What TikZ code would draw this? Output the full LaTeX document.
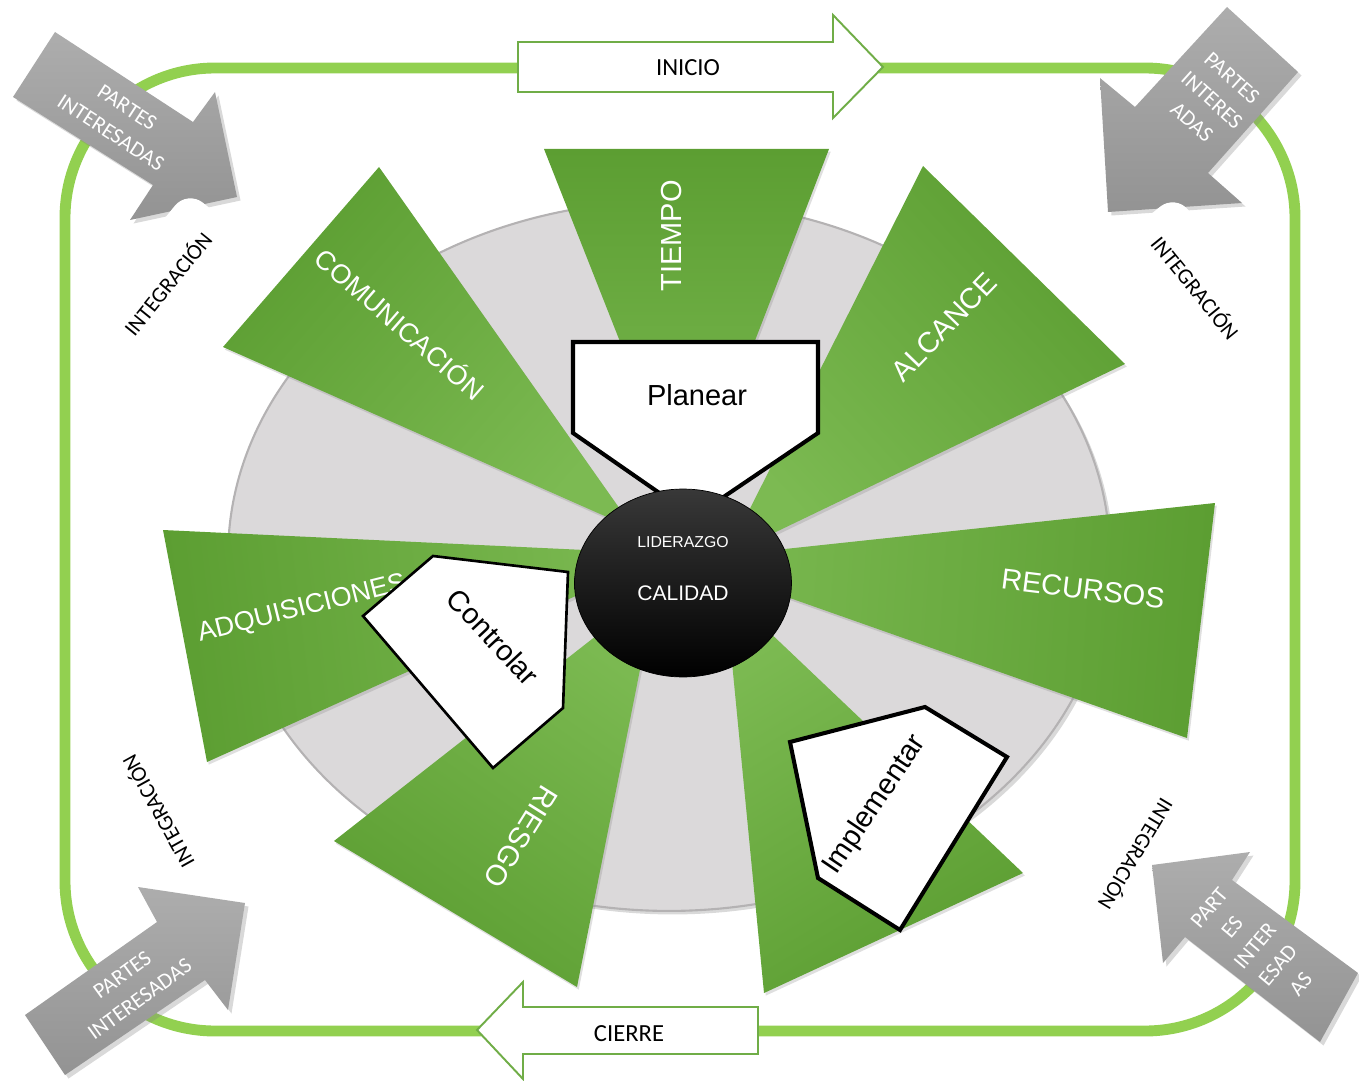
\documentclass[tikz,border=0pt]{standalone}
\usepackage{fontspec}
\setmainfont{Liberation Sans}
\newfontfamily\calibri{Carlito}
\usetikzlibrary{shapes.geometric,shadows}
\definecolor{frameGreen}{HTML}{92D050}
\definecolor{lineGreen}{HTML}{70AD47}
\definecolor{darkGreen}{HTML}{5C9E32}
\definecolor{lightGreen}{HTML}{7CBA52}
\definecolor{discGray}{HTML}{DBD9DA}
\definecolor{rimGray}{HTML}{B4B2B3}
\definecolor{grayA}{HTML}{ADADAD}
\definecolor{grayB}{HTML}{939393}
\begin{document}
\begin{tikzpicture}[x=0.02cm, y=-0.02cm,
    sector/.style={top color=darkGreen, bottom color=lightGreen,
        drop shadow={opacity=0.25, shadow xshift=1pt, shadow yshift=-1.5pt}},
    sectxt/.style={text=white, font=\fontsize{16.5}{19}\selectfont},
    stagearrow/.style={fill=white, draw=lineGreen, line width=1.1pt},
    stagetxt/.style={font=\calibri\fontsize{14}{16}\selectfont},
    partes/.style={top color=grayA, bottom color=grayB,
        drop shadow={opacity=0.3, shadow xshift=2pt, shadow yshift=-2pt}},
    partestxt/.style={text=white, align=center, font=\calibri\fontsize{12.5}{17}\selectfont},
    integ/.style={font=\calibri\fontsize{12.5}{15}\selectfont, rounded corners=0.4cm,
        minimum width=3.4cm, minimum height=1.7cm},
    disc/.style={fill=discGray, draw=rimGray, line width=1.2pt,
        drop shadow={opacity=0.3, shadow xshift=2pt, shadow yshift=-2pt}},
    phase/.style={fill=white, draw=black, line width=2.3pt, line join=miter},
    phasetxt/.style={font=\fontsize{16.5}{19}\selectfont},
    hub/.style={ellipse, draw=black, minimum width=4.34cm, minimum height=3.76cm,
        inner sep=0pt, top color=black!78, middle color=black, bottom color=black}
]
\useasboundingbox (0,0) rectangle (1359,1081);

% frame
\draw[frameGreen, line width=6.2pt, rounded corners=3cm] (65,68) rectangle (1295,1031);

% inicio / cierre
\draw[stagearrow] (518,42) -- (833,42) -- (833,15) -- (883,67) -- (833,118) -- (833,92) -- (518,92) -- cycle;
\node[stagetxt] (inicio) at (688,68) {INICIO};
\draw[stagearrow] (758,1007) -- (523,1007) -- (523,982) -- (477,1030) -- (523,1079) -- (523,1054) -- (758,1054) -- cycle;
\node[stagetxt] (cierre) at (629,1034) {CIERRE};

% partes interesadas
\path[partes] (55,32) -- (193,122) -- (215,92) -- (237,197) -- (130,220) -- (153,185) -- (13,97) -- cycle;
\path[partes] (1227,7) -- (1298,72) -- (1208,173) -- (1242,203) -- (1108,212) -- (1100,78) -- (1135,107) -- cycle;
\path[partes] (25,1015) -- (157,922) -- (138,887) -- (245,903) -- (228,1010) -- (205,980) -- (65,1075) -- cycle;
\path[partes] (1358,973) -- (1232,880) -- (1250,852) -- (1152,865) -- (1163,963) -- (1185,937) -- (1320,1042) -- cycle;
\node[partestxt, rotate=-33] (partesA) at (119,120) {PARTES\\INTERESADAS};
\node[partestxt, rotate=-42] (partesB) at (1212,100) {PARTES\\INTERES\\ADAS};
\node[partestxt, rotate=36] (partesC) at (131,987) {PARTES\\INTERESADAS};
\node[partestxt, rotate=50] (partesD) at (1255,946) {PART\\ES\\INTER\\ESAD\\AS};

% integracion
\node[integ, fill=white, rotate=51] (integA) at (167,283) {INTEGRACIÓN};
\node[integ, fill=white, rotate=-51] (integB) at (1196,287) {INTEGRACIÓN};
\node[integ, rotate=119] (integC) at (157,812) {INTEGRACIÓN};
\node[integ, rotate=-121] (integD) at (1137,855) {INTEGRACIÓN};

% disc and sectors
\path[disc] (669,556) ellipse [x radius=8.82cm, y radius=7.1cm];
\foreach \ax/\ay/\bx/\by/\cx/\cy/\ang in {
    544/149/829/149/688/514/0,
    923/166/1125/364/726/556/-47,
    1215/503/1187/738/682/560/-94,
    1023/873/764/993/725/590/-149,
    577/987/334/841/656/589/145,
    207/762/163/530/669/554/97,
    223/347/379/167/634/529/49}{
    \path[sector, shading angle=\ang] (\ax,\ay) -- (\bx,\by) -- (\cx,\cy) -- cycle;
}
\node[sectxt, rotate=90] (tiempo) at (672,236) {TIEMPO};
\node[sectxt, rotate=46] (alcance) at (944,327) {ALCANCE};
\node[sectxt, rotate=-7] (recursos) at (1083,589) {RECURSOS};
\node[sectxt, rotate=-122] (riesgo) at (521,837) {RIESGO};
\node[sectxt, rotate=14, font=\fontsize{15.3}{18}\selectfont] (adquisiciones) at (302,609) {ADQUISICIONES};
\node[sectxt, rotate=-41, font=\fontsize{15.3}{18}\selectfont] (comunicacion) at (401,323) {COMUNICACIÓN};

% phases
\draw[phase] (573,342) -- (818,342) -- (818,433) -- (694,517) -- (573,433) -- cycle;
\node[phasetxt] (planear) at (697,395) {Planear};
\draw[phase, line width=1.5pt] (433,556) -- (568,572) -- (563,708) -- (493,768) -- (363,616) -- cycle;
\node[phasetxt, rotate=-47] (controlar) at (493,637) {Controlar};
\draw[phase] (790,742) -- (925,707) -- (1007,757) -- (900,930) -- (818,878) -- cycle;
\node[phasetxt, rotate=56] (implementar) at (875,805) {Implementar};

% center
\node[hub] (hub) at (683,583) {};
\node[text=white, font=\fontsize{9}{11}\selectfont] (liderazgo) at (683,542) {LIDERAZGO};
\node[text=white, font=\fontsize{12}{14}\selectfont] (calidad) at (683,593) {CALIDAD};
\end{tikzpicture}
\end{document}
